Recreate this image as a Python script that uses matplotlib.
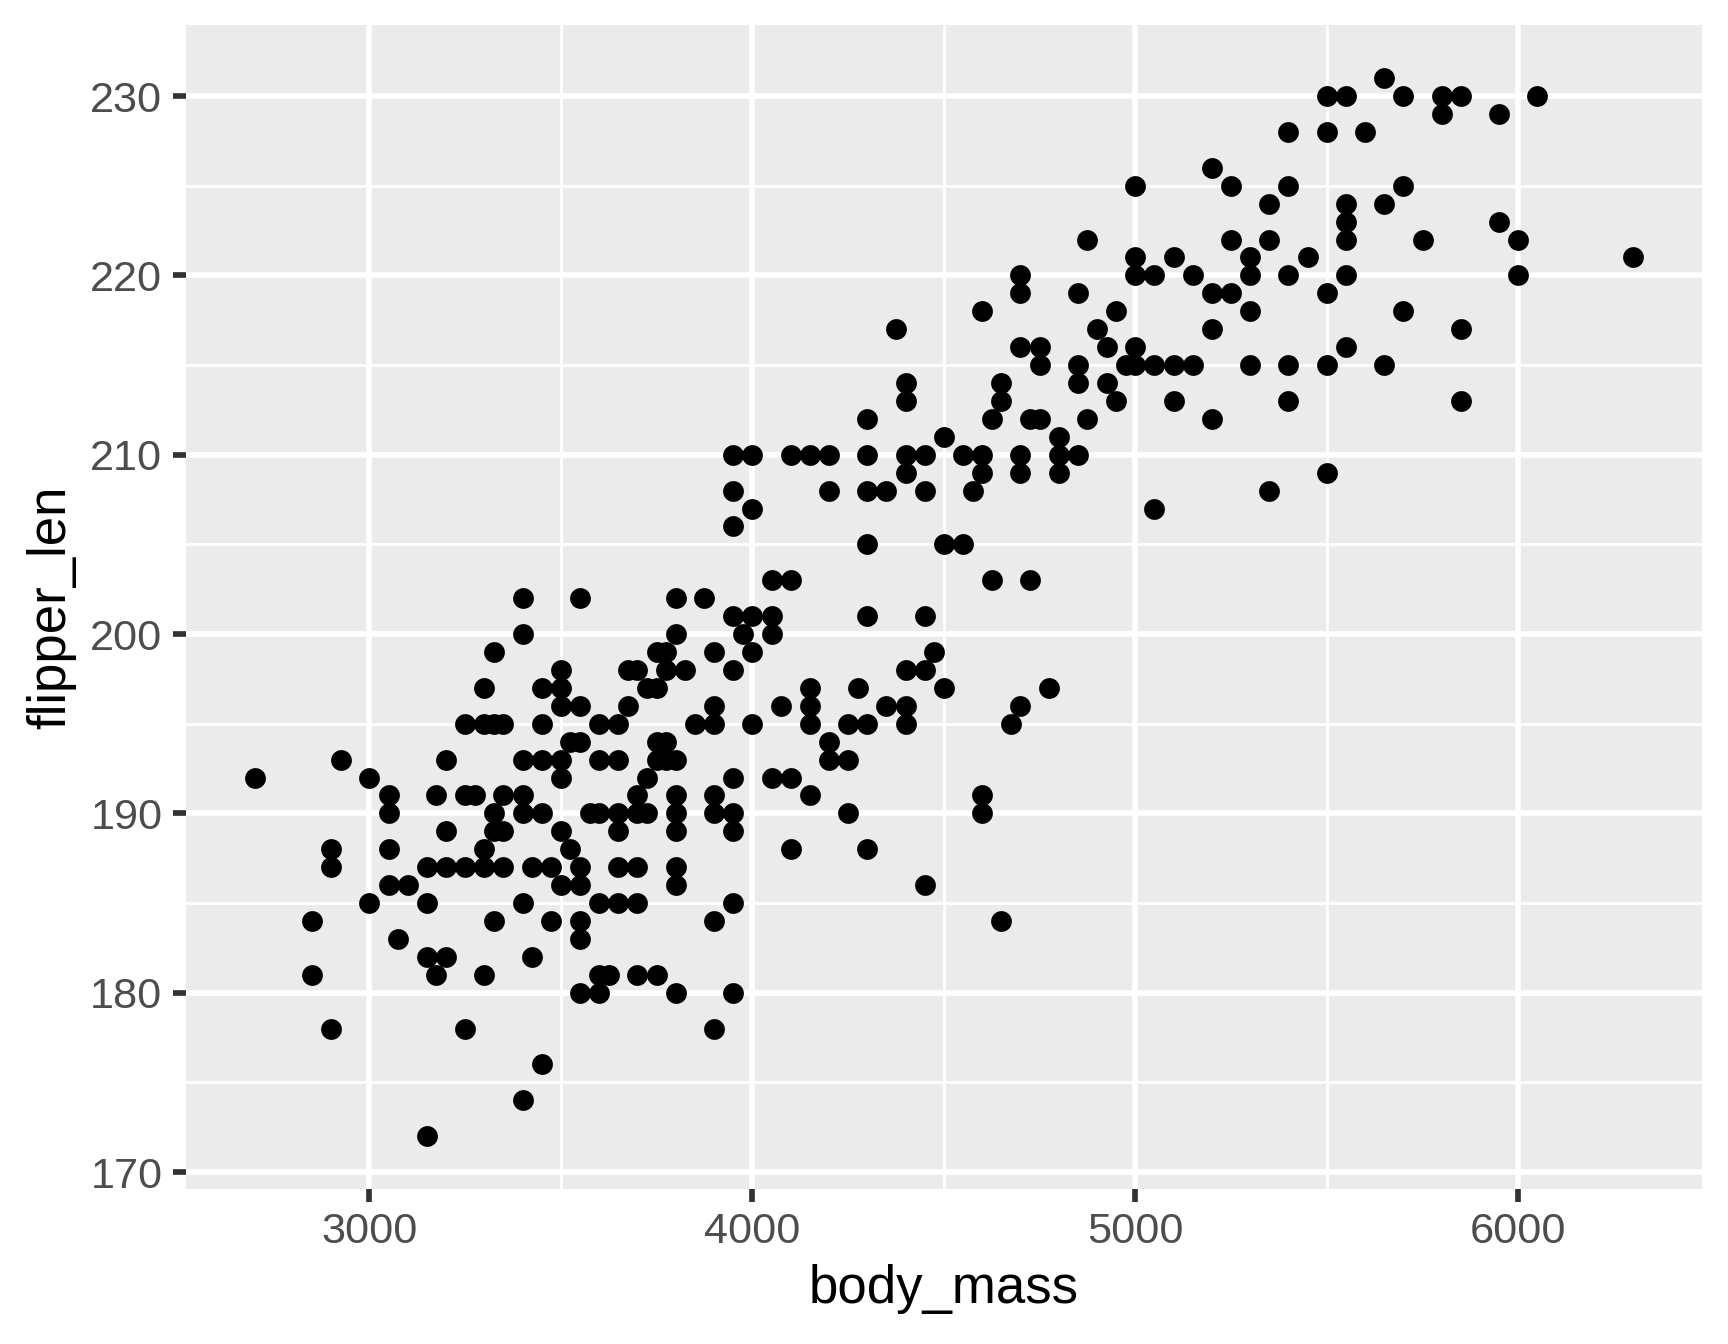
import matplotlib
matplotlib.use("Agg")
import matplotlib.pyplot as plt

plt.rcParams['font.family'] = ['Liberation Sans', 'DejaVu Sans']

mass_values = [
    2700, 2850, 2900, 2925, 3000, 3050, 3075, 3100, 3150, 3175,
    3200, 3250, 3275, 3300, 3325, 3350, 3400, 3425, 3450, 3475,
    3500, 3525, 3550, 3575, 3600, 3625, 3650, 3675, 3700, 3725,
    3750, 3775, 3800, 3825, 3850, 3875, 3900, 3950, 3975, 4000,
    4050, 4075, 4100, 4150, 4200, 4250, 4275, 4300, 4350, 4375,
    4400, 4450, 4475, 4500, 4550, 4575, 4600, 4625, 4650, 4675,
    4700, 4725, 4750, 4775, 4800, 4850, 4875, 4900, 4925, 4950,
    4975, 5000, 5050, 5100, 5150, 5200, 5250, 5300, 5350, 5400,
    5450, 5500, 5550, 5600, 5650, 5700, 5750, 5800, 5850, 5950,
    6000, 6050, 6300,
]
flipper_groups = [
    [192], [184, 181], [188, 187, 178], [193], [192, 185],
    [191, 190, 188, 186], [183], [186], [187, 185, 182, 172], [191, 181],
    [193, 189, 187, 182], [195, 191, 187, 178], [191], [197, 195, 188, 187, 181],
    [199, 195, 190, 189, 184], [195, 191, 189, 187],
    [202, 200, 193, 191, 190, 185, 174], [187, 182], [197, 195, 193, 190, 176],
    [187, 184],
    [198, 197, 196, 193, 192, 189, 186], [194, 188],
    [202, 196, 194, 187, 186, 184, 183, 180], [190],
    [195, 193, 190, 185, 181, 180], [181], [195, 193, 190, 189, 187, 185],
    [198, 196], [198, 191, 190, 187, 185, 181], [197, 192, 190],
    [199, 197, 194, 193, 181], [199, 198, 194, 193],
    [202, 200, 193, 191, 190, 189, 187, 186, 180], [198], [195], [202],
    [199, 196, 195, 191, 190, 184, 178],
    [210, 208, 206, 201, 198, 192, 190, 189, 185, 180], [200],
    [210, 207, 201, 199, 195],
    [203, 201, 200, 192], [196], [210, 203, 192, 188], [210, 197, 196, 195, 191],
    [210, 208, 194, 193], [195, 193, 190], [197],
    [212, 210, 208, 205, 201, 195, 188], [208, 196], [217],
    [214, 213, 210, 209, 198, 196, 195], [210, 208, 201, 198, 186], [199],
    [211, 205, 197], [210, 205], [208], [218, 210, 209, 191, 190], [212, 203],
    [214, 213, 184], [195],
    [220, 219, 216, 210, 209, 196], [212, 203], [216, 215, 212], [197],
    [211, 210, 209], [219, 215, 214, 210], [222, 212], [217], [216, 214],
    [218, 213],
    [215], [225, 221, 220, 216, 215], [220, 215, 207], [221, 215, 213],
    [220, 215], [226, 219, 217, 212], [225, 222, 219], [221, 220, 218, 215],
    [224, 222, 208], [228, 225, 220, 215, 213],
    [221], [230, 228, 219, 215, 209], [230, 224, 223, 222, 220, 216], [228],
    [231, 224, 215], [230, 225, 218], [222], [230, 229], [230, 217, 213],
    [229, 223],
    [222, 220], [230], [221],
]

body_mass = []
flipper_len = []
for m, fl in zip(mass_values, flipper_groups):
    for f in fl:
        body_mass.append(m)
        flipper_len.append(f)

fig = plt.figure(figsize=(6, 1344 / 288), dpi=288)
ax = fig.add_axes([0.1074, 0.1153, 0.8776, 0.8659])
ax.set_facecolor('#EBEBEB')

ax.scatter(body_mass, flipper_len, s=27, c='black', linewidths=0, zorder=3)
ax.margins(0.05)

ax.set_xticks([3000, 4000, 5000, 6000])
ax.set_xticks([3500, 4500, 5500], minor=True)
ax.set_yticks(range(170, 231, 10))
ax.set_yticks(range(175, 230, 10), minor=True)

ax.grid(which='major', color='white', linewidth=1.42, zorder=0)
ax.grid(which='minor', color='white', linewidth=0.71, zorder=0)
ax.set_axisbelow(True)

for s in ax.spines.values():
    s.set_visible(False)

ax.tick_params(which='major', length=3.2, width=1.42, color='#333333',
               labelsize=10.8, labelcolor='#4D4D4D', pad=2.6)
ax.tick_params(which='minor', length=0)

ax.set_xlabel('body_mass', fontsize=13.2, color='black', labelpad=3.0)
ax.set_ylabel('flipper_len', fontsize=13.2, color='black', labelpad=3.5)

fig.savefig('out.png', dpi=288)
